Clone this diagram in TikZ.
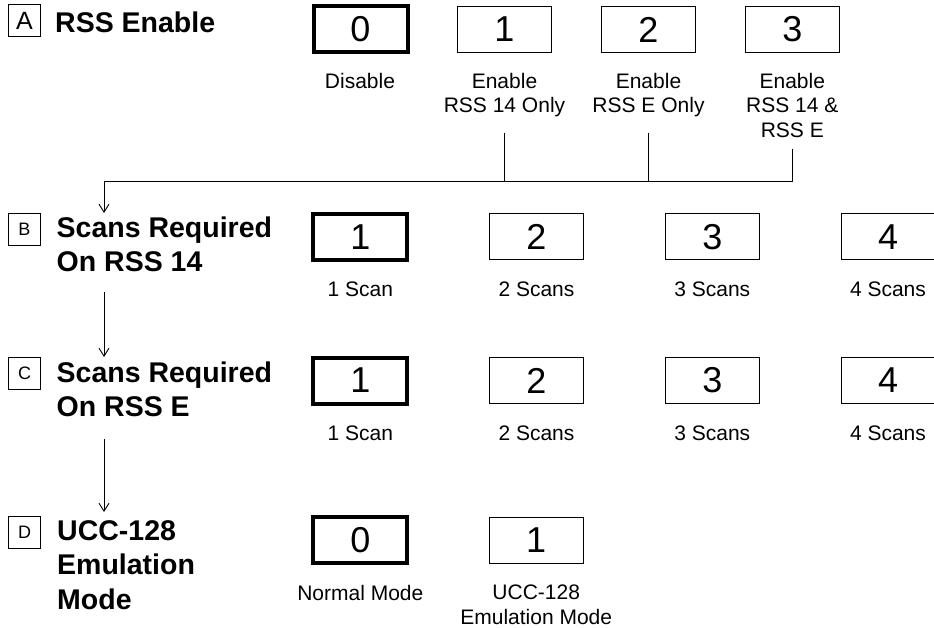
\documentclass[tikz,border=0pt]{standalone}
\usepackage{fontspec}
\setmainfont{Liberation Sans}
\usetikzlibrary{arrows.meta}
\begin{document}
\begin{tikzpicture}[x=1pt,y=-1pt,
  optbox/.style={draw,line width=1pt,minimum width=94pt,minimum height=46pt,inner sep=0pt,font=\fontsize{36}{36}\selectfont},
  defbox/.style={optbox,line width=4pt},
  captxt/.style={anchor=north,align=center,inner sep=0pt,font=\fontsize{21}{24.5}\selectfont},
  head/.style={anchor=north west,align=left,inner sep=0pt,font=\fontsize{28.5}{34.5}\selectfont\bfseries},
  tagbox/.style={draw,line width=0.8pt,minimum width=32pt,minimum height=32pt,inner sep=0pt,font=\fontsize{18}{18}\selectfont},
  conn/.style={line width=0.9pt},
  arr/.style={conn,-{Straight Barb[length=8pt,width=10pt]}}]
\useasboundingbox (0,0) rectangle (934,628);

% headings
\node[tagbox,font=\fontsize{25}{25}\selectfont] (tA) at (24.5,20.5) {A};
\node[head] (hA) at (55,12) {RSS Enable};
\node[tagbox] (tB) at (24.5,229) {B};
\node[head] (hB) at (56.5,216.2) {Scans Required\\On RSS 14};
\node[tagbox] (tC) at (24.5,373) {C};
\node[head] (hC) at (56.5,361.2) {Scans Required\\On RSS E};
\node[tagbox] (tD) at (24.5,532) {D};
\node[head] (hD) at (57,520.3) {UCC-128\\Emulation\\Mode};

% row A
\node[defbox] (a0) at (360.5,29.5) {0};
\node[optbox] (a1) at (504.5,29.5) {1};
\node[optbox] (a2) at (648.5,29.5) {2};
\node[optbox] (a3) at (792.3,29.5) {3};
\node[captxt] (ca0) at (360,73) {Disable};
\node[captxt] (ca1) at (504.5,73) {Enable\\RSS 14 Only};
\node[captxt] (ca2) at (648.5,73) {Enable\\RSS E Only};
\node[captxt] (ca3) at (792.3,73) {Enable\\RSS 14 \&\\RSS E};

% row B
\node[defbox] (b1) at (360.3,237) {1};
\node[optbox] (b2) at (536.5,237) {2};
\node[optbox] (b3) at (712.3,237) {3};
\node[optbox] (b4) at (888,237) {4};
\node[captxt] (cb1) at (360.3,282) {1 Scan};
\node[captxt] (cb2) at (536.5,282) {2 Scans};
\node[captxt] (cb3) at (712.3,282) {3 Scans};
\node[captxt] (cb4) at (888,282) {4 Scans};

% row C
\node[defbox] (c1) at (360.3,380.5) {1};
\node[optbox] (c2) at (536.5,380.5) {2};
\node[optbox] (c3) at (712.3,380.5) {3};
\node[optbox] (c4) at (888,380.5) {4};
\node[captxt] (cc1) at (360.3,425.5) {1 Scan};
\node[captxt] (cc2) at (536.5,425.5) {2 Scans};
\node[captxt] (cc3) at (712.3,425.5) {3 Scans};
\node[captxt] (cc4) at (888,425.5) {4 Scans};

% row D
\node[defbox] (d0) at (360.3,540) {0};
\node[optbox] (d1) at (536.2,540) {1};
\node[captxt] (cd0) at (360.3,585) {Normal Mode};
\node[captxt] (cd1) at (536.2,585) {UCC-128\\Emulation Mode};

% connectors
\coordinate (s1) at (504.5,133);
\coordinate (s2) at (648.5,133);
\coordinate (s3) at (792.3,149);
\coordinate (bus) at (104,181);
\coordinate (eB) at (104,213);
\coordinate (fB) at (104,292);
\coordinate (eC) at (104,357);
\coordinate (fC) at (104,439);
\coordinate (eD) at (104,512);
\draw[conn] (s1) -- (s1 |- bus);
\draw[conn] (s2) -- (s2 |- bus);
\draw[arr] (s3) |- (bus) -- (eB);
\draw[arr] (fB) -- (eC);
\draw[arr] (fC) -- (eD);
\end{tikzpicture}
\end{document}
